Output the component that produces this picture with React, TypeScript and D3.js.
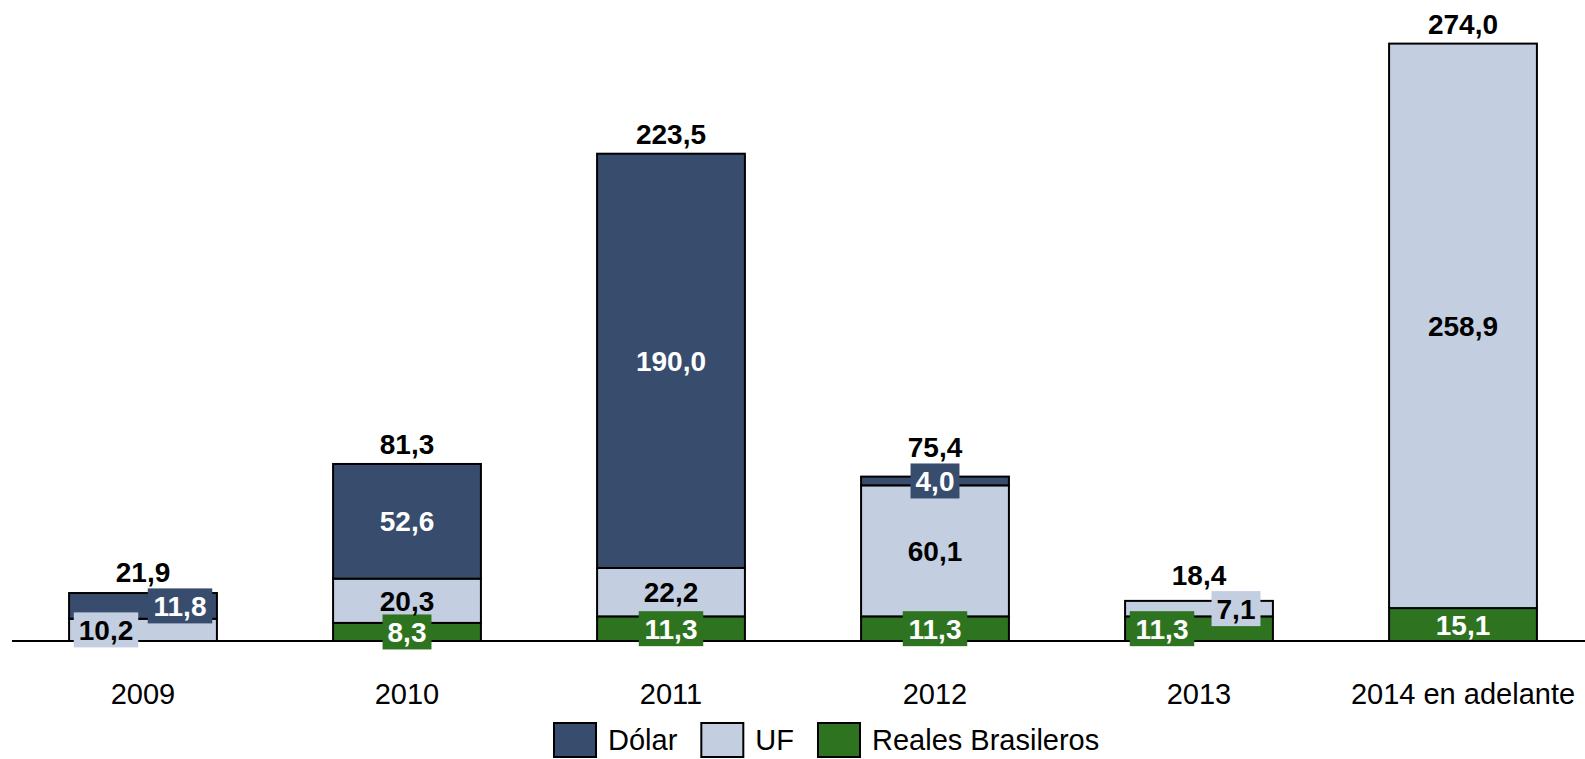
import React, { useEffect, useRef } from 'react';
import * as d3 from 'd3';

// data
const categories = ['2009', '2010', '2011', '2012', '2013', '2014 en adelante'];
const reales = [0, 8.3, 11.3, 11.3, 11.3, 15.1];
const uf = [10.2, 20.3, 22.2, 60.1, 7.1, 258.9];
const dolar = [11.8, 52.6, 190.0, 4.0, 0, 0];
const totals = [21.9, 81.3, 223.5, 75.4, 18.4, 274.0];
const stackKeys = ['Reales Brasileros', 'UF', 'Dólar'];
const legendKeys = ['Dólar', 'UF', 'Reales Brasileros'];

const colors: Record<string, string> = {
  'Dólar': '#384d6d',
  UF: '#c3cee0',
  'Reales Brasileros': '#2e7420',
};
const textColors: Record<string, string> = {
  'Dólar': '#ffffff',
  UF: '#000000',
  'Reales Brasileros': '#ffffff',
};

const WIDTH = 1585;
const HEIGHT = 759;
const FONT = 'Liberation Sans, Arial, sans-serif';

const fmt = (v: number) => d3.format('.1f')(v).replace('.', ',');

export default function App() {
  const ref = useRef<SVGSVGElement>(null);

  useEffect(() => {
    document.body.style.margin = '0';
    draw();
    // eslint-disable-next-line react-hooks/exhaustive-deps
  }, []);

  function draw() {
    const svg = d3.select(ref.current);
    svg.selectAll('*').remove();

    const rows = categories.map((c, i) => ({
      cat: c,
      'Reales Brasileros': reales[i],
      UF: uf[i],
      'Dólar': dolar[i],
    }));

    const xScale = d3
      .scaleBand<string>()
      .domain(categories)
      .range([11, 11 + 264 * categories.length])
      .paddingInner(0.44)
      .paddingOuter(0.22);
    const yScale = d3.scaleLinear().domain([0, 294]).range([641, 0]);

    const stacked = d3.stack<any>().keys(stackKeys)(rows);

    // baseline
    svg
      .append('line')
      .attr('x1', 12)
      .attr('x2', WIDTH)
      .attr('y1', yScale(0))
      .attr('y2', yScale(0))
      .attr('stroke', '#000')
      .attr('stroke-width', 2);

    // bars
    stacked.forEach((layer) => {
      svg
        .append('g')
        .selectAll('rect')
        .data(layer.filter((d) => d[1] - d[0] > 0))
        .join('rect')
        .attr('x', (d: any) => xScale(d.data.cat)!)
        .attr('width', xScale.bandwidth())
        .attr('y', (d) => yScale(d[1]))
        .attr('height', (d) => yScale(d[0]) - yScale(d[1]))
        .attr('fill', colors[layer.key])
        .attr('stroke', '#000')
        .attr('stroke-width', 2);
    });

    // segment labels
    const labels = svg.append('g').attr('font-family', FONT).attr('font-weight', 'bold').attr('font-size', 28);
    const topOfLabels: number[] = [];
    categories.forEach((cat, i) => {
      const segs = stacked
        .map((layer) => ({ key: layer.key, d: layer[i] }))
        .filter((s) => s.d[1] - s.d[0] > 0)
        .map((s) => {
          const h = yScale(s.d[0]) - yScale(s.d[1]);
          return { ...s, h, boxed: h < 30, offset: 0 };
        });
      for (let k = 0; k < segs.length - 1; k++) {
        if (segs[k].boxed && segs[k + 1].boxed) {
          segs[k].offset = -37;
          segs[k + 1].offset = 37;
        }
      }
      const cx = xScale(cat)! + xScale.bandwidth() / 2;
      let top = Infinity;
      segs.forEach((s) => {
        const v = s.d[1] - s.d[0];
        const txt = fmt(v);
        const cy = (yScale(s.d[0]) + yScale(s.d[1])) / 2;
        const x = cx + s.offset;
        if (s.boxed) {
          const w = (txt.length - 1) * 0.556 * 28 + 0.278 * 28 + 10;
          labels
            .append('rect')
            .attr('x', x - w / 2)
            .attr('y', cy - 17.5)
            .attr('width', w)
            .attr('height', 35)
            .attr('fill', colors[s.key]);
          top = Math.min(top, cy - 17.5);
        }
        labels
          .append('text')
          .attr('x', x)
          .attr('y', cy + 10)
          .attr('text-anchor', 'middle')
          .attr('fill', textColors[s.key])
          .text(txt);
      });
      topOfLabels.push(top);
    });

    // totals
    svg
      .append('g')
      .selectAll('text')
      .data(totals)
      .join('text')
      .attr('x', (d, i) => xScale(categories[i])! + xScale.bandwidth() / 2)
      .attr('y', (d, i) => Math.min(yScale(d) - 10, topOfLabels[i] - 6))
      .attr('text-anchor', 'middle')
      .attr('font-family', FONT)
      .attr('font-weight', 'bold')
      .attr('font-size', 28)
      .attr('fill', '#000')
      .text((d) => fmt(d));

    // category labels
    svg
      .append('g')
      .selectAll('text')
      .data(categories)
      .join('text')
      .attr('x', (d) => xScale(d)! + xScale.bandwidth() / 2)
      .attr('y', 704)
      .attr('text-anchor', 'middle')
      .attr('font-family', FONT)
      .attr('font-size', 29)
      .attr('fill', '#000')
      .text((d) => d);

    // legend
    const legend = svg.append('g').attr('font-family', FONT).attr('font-size', 29);
    let lx = 554;
    legendKeys.forEach((key) => {
      legend
        .append('rect')
        .attr('x', lx)
        .attr('y', 723)
        .attr('width', 42)
        .attr('height', 34)
        .attr('fill', colors[key])
        .attr('stroke', '#000')
        .attr('stroke-width', 2);
      const t = legend
        .append('text')
        .attr('x', lx + 54)
        .attr('y', 750)
        .attr('fill', '#000')
        .text(key);
      const len = (t.node() as SVGTextElement).getComputedTextLength();
      lx = lx + 54 + len + 24;
    });
  }

  return <svg ref={ref} width={WIDTH} height={HEIGHT} style={{ display: 'block', background: '#fff' }} />;
}
